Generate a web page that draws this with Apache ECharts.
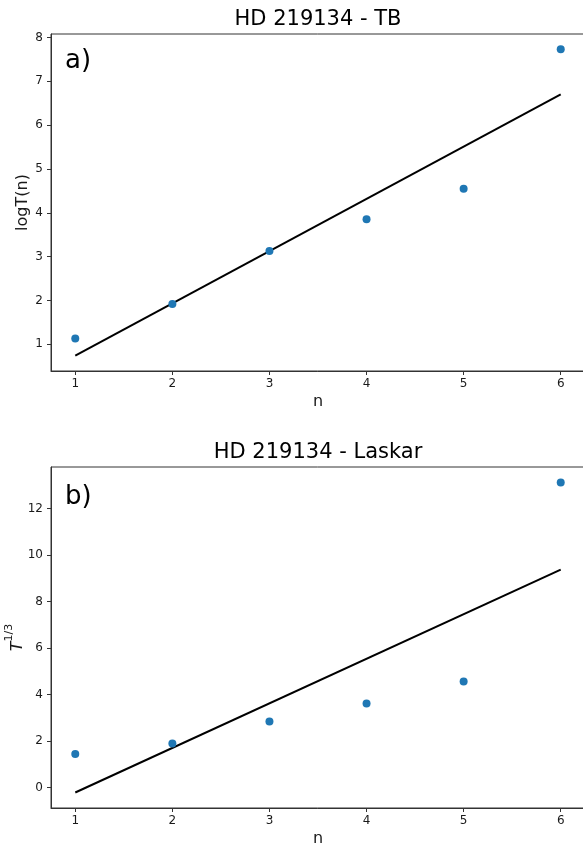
<!DOCTYPE html>
<html>
<head>
<meta charset="utf-8">
<script src="https://cdn.jsdelivr.net/npm/echarts@6/dist/echarts.min.js"></script>
<style>
html,body{margin:0;padding:0;background:#fff;}
#chart{width:583px;height:846px;}
</style>
</head>
<body>
<div id="chart"></div>
<script>
// ---- data ----
const nValues = [1, 2, 3, 4, 5, 6];
const logTValues = [1.13, 1.92, 3.13, 3.85, 4.55, 7.73];
const logTFitN = [1, 6];
const logTFitValues = [0.74, 6.70];
const cubeRootValues = [1.45, 1.90, 2.84, 3.61, 4.56, 13.11];
const cubeRootFitN = [1, 6];
const cubeRootFitValues = [-0.21, 9.37];
const xTicks = [1, 2, 3, 4, 5, 6];
const topYTicks = [1, 2, 3, 4, 5, 6, 7, 8];
const bottomYTicks = [0, 2, 4, 6, 8, 10, 12];
const titles = ['HD 219134 - TB', 'HD 219134 - Laskar'];
const panelLabels = ['a)', 'b)'];

const FONT = 'DejaVu Sans';
const axisColor = '#333';
const textColor = '#1a1a1a';
const dotColor = '#1f77b4';

function pairs(xs, ys) { return xs.map((x, i) => [x, ys[i]]); }

function xAxisCfg(gridIndex) {
  return {
    type: 'value', gridIndex, min: 0.75, max: 6.25,
    name: 'n', nameLocation: 'middle', nameGap: 23, nameMoveOverlap: false,
    nameTextStyle: { fontFamily: FONT, fontSize: 16, color: textColor },
    axisLine: { show: true, onZero: false, lineStyle: { color: axisColor, width: 1 } },
    axisTick: { show: true, length: 4, lineStyle: { color: axisColor }, customValues: xTicks },
    axisLabel: { fontFamily: FONT, fontSize: 12, color: textColor, margin: 7, customValues: xTicks },
    splitLine: { show: false }
  };
}

function yAxisCfg(gridIndex, min, max, ticks, name, extra) {
  return Object.assign({
    type: 'value', gridIndex, min, max,
    name, nameLocation: 'middle', nameRotate: 90, nameGap: 20, nameMoveOverlap: false,
    nameTextStyle: { fontFamily: FONT, fontSize: 16, color: textColor },
    axisLine: { show: true, onZero: false, lineStyle: { color: axisColor, width: 1 } },
    axisTick: { show: true, length: 4, lineStyle: { color: axisColor }, customValues: ticks },
    axisLabel: { fontFamily: FONT, fontSize: 12, color: textColor, margin: 8, customValues: ticks },
    splitLine: { show: false }
  }, extra || {});
}

const chart = echarts.init(document.getElementById('chart'), null, { renderer: 'canvas' });

const gridBase = { left: 51, width: 534, show: true, borderColor: axisColor, borderWidth: 1,
  backgroundColor: 'transparent', containLabel: false, outerBoundsMode: 'none' };

const option = {
  animation: false,
  backgroundColor: '#fff',
  title: [
    { text: titles[0], left: 318, top: 9, textAlign: 'center', padding: 0,
      textStyle: { fontFamily: FONT, fontSize: 21, fontWeight: 'normal', color: '#000' } },
    { text: titles[1], left: 318, top: 442, textAlign: 'center', padding: 0,
      textStyle: { fontFamily: FONT, fontSize: 21, fontWeight: 'normal', color: '#000' } }
  ],
  grid: [
    Object.assign({}, gridBase, { top: 34, height: 337 }),
    Object.assign({}, gridBase, { top: 467, height: 341 })
  ],
  xAxis: [xAxisCfg(0), xAxisCfg(1)],
  yAxis: [
    yAxisCfg(0, 0.39, 8.08, topYTicks, 'logT(n)'),
    yAxisCfg(1, -0.876, 13.78, bottomYTicks, '{t|T}{s|1/3}', {
      nameGap: 25,
      nameTextStyle: {
        fontFamily: FONT, color: textColor,
        rich: {
          t: { fontFamily: FONT, fontSize: 16, fontStyle: 'italic', color: textColor, lineHeight: 22, verticalAlign: 'bottom' },
          s: { fontFamily: FONT, fontSize: 11, color: textColor, lineHeight: 22, verticalAlign: 'top' }
        }
      }
    })
  ],
  graphic: [
    { type: 'text', left: 65, top: 48, silent: true,
      style: { text: panelLabels[0], font: '26px "DejaVu Sans"', fill: '#000' } },
    { type: 'text', left: 65, top: 484, silent: true,
      style: { text: panelLabels[1], font: '26px "DejaVu Sans"', fill: '#000' } }
  ],
  series: [
    { type: 'line', xAxisIndex: 0, yAxisIndex: 0, data: pairs(logTFitN, logTFitValues),
      symbol: 'none', lineStyle: { color: '#000', width: 2 }, z: 2 },
    { type: 'scatter', xAxisIndex: 0, yAxisIndex: 0, data: pairs(nValues, logTValues),
      symbolSize: 8, itemStyle: { color: dotColor, opacity: 1 }, z: 3 },
    { type: 'line', xAxisIndex: 1, yAxisIndex: 1, data: pairs(cubeRootFitN, cubeRootFitValues),
      symbol: 'none', lineStyle: { color: '#000', width: 2 }, z: 2 },
    { type: 'scatter', xAxisIndex: 1, yAxisIndex: 1, data: pairs(nValues, cubeRootValues),
      symbolSize: 8, itemStyle: { color: dotColor, opacity: 1 }, z: 3 }
  ]
};
chart.setOption(option);
</script>
</body>
</html>
